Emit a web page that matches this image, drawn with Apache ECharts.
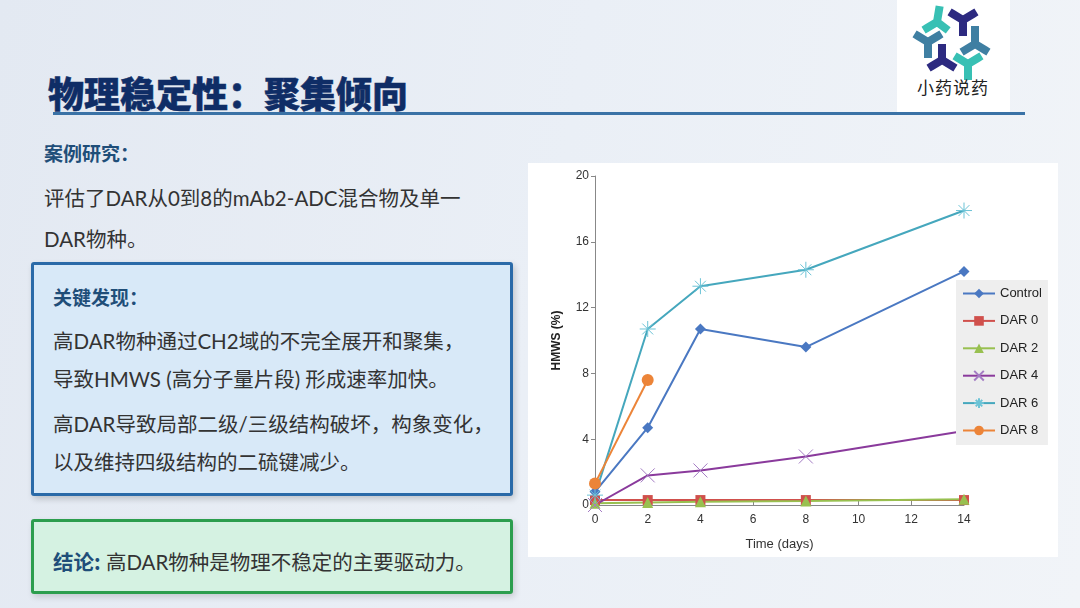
<!DOCTYPE html>
<html><head><meta charset="utf-8">
<script src="https://cdn.jsdelivr.net/npm/echarts@6/dist/echarts.min.js"></script>
<style>
html,body{margin:0;padding:0;}
body{width:1080px;height:608px;position:relative;overflow:hidden;
 background:linear-gradient(100deg,#e3e9f2 0%,#eaeff6 50%,#f1f4f8 100%);
 font-family:Lato,"Noto Sans CJK SC",sans-serif;}
.abs{position:absolute;}
#title{left:48px;top:66px;font-size:36px;font-weight:900;color:#0f2d66;font-family:"Noto Sans CJK SC",sans-serif;letter-spacing:0px;-webkit-text-stroke:0.5px #0f2d66;}
#tline{left:53px;top:112px;width:972px;height:3px;background:#3a72a6;}
#logo{left:897px;top:0;width:113px;height:112px;background:#fff;}
.h{font-weight:bold;color:#1f4e79;font-size:19px;font-family:"Noto Sans CJK SC",sans-serif;}
.t{font-size:20.5px;color:#333;}
#box1{left:31px;top:262px;width:476px;height:228px;border:3px solid #2a6aa8;background:#d8e9f8;border-radius:3px;box-shadow:2px 3px 6px rgba(0,0,0,0.18);}
#box2{left:31px;top:519px;width:476px;height:69px;border:3px solid #2c9e4e;background:#d5f2e2;border-radius:3px;box-shadow:2px 3px 6px rgba(0,0,0,0.15);}
#panel{left:528px;top:163px;width:530px;height:394px;background:#fff;}
</style></head>
<body>
<div id="title" class="abs">物理稳定性：聚集倾向</div>
<div id="tline" class="abs"></div>
<div id="logo" class="abs">
<svg width="113" height="112" viewBox="0 0 113 112">
 <g stroke-linecap="square" stroke-linejoin="round" stroke-width="8" fill="none">
  <path d="M40,22 L42,10 M40,22 L30,28 M40,22 L48,28" stroke="#38c0b4"/>
  <path d="M66,20 L56,14 M66,20 L76,14 M66,20 L66,32" stroke="#2d2a80"/>
  <path d="M78,44 L78,30 M78,44 L88,50 M78,44 L68,50" stroke="#3f7fa2"/>
  <path d="M71,64 L81,58 M71,64 L61,58 M71,64 L71,76" stroke="#38c0b4"/>
  <path d="M45,60 L45,48 M45,60 L35,66 M45,60 L55,66" stroke="#2d2a80"/>
  <path d="M31,42 L21,36 M31,42 L41,36 M31,42 L31,54" stroke="#3f7fa2"/>
 </g>
 <text x="56" y="94" text-anchor="middle" font-size="17" fill="#222" font-family="Noto Sans CJK SC" letter-spacing="1">小药说药</text>
</svg>
</div>
<div class="abs h" style="left:44px;top:139px;">案例研究：</div>
<div class="abs t" style="left:44px;top:182px;">评估了DAR从0到8的mAb2-ADC混合物及单一</div>
<div class="abs t" style="left:44px;top:223px;">DAR物种。</div>
<div id="box1" class="abs"></div>
<div class="abs h" style="left:53px;top:283px;">关键发现：</div>
<div class="abs t" style="left:53px;top:325px;">高DAR物种通过CH2域的不完全展开和聚集，</div>
<div class="abs t" style="left:53px;top:363px;">导致HMWS (高分子量片段) 形成速率加快。</div>
<div class="abs t" style="left:53px;top:408px;">高DAR导致局部二级/三级结构破坏，构象变化，</div>
<div class="abs t" style="left:53px;top:446px;">以及维持四级结构的二硫键减少。</div>
<div id="box2" class="abs"></div>
<div class="abs t" style="left:53px;top:546px;"><span class="h" style="font-size:20.5px;">结论:</span> 高DAR物种是物理不稳定的主要驱动力。</div>
<div id="panel" class="abs"><div id="chart" style="width:530px;height:394px;"></div></div>
<script>
var days = [0, 2, 4, 8, 14];
var seriesNames = ['Control', 'DAR 0', 'DAR 2', 'DAR 4', 'DAR 6', 'DAR 8'];
var control = [0.8, 4.7, 10.7, 9.6, 14.2];
var dar0 = [0.3, 0.3, 0.3, 0.3, 0.3];
var dar2 = [0.1, 0.15, 0.2, 0.25, 0.35];
var dar4 = [0.0, 1.8, 2.1, 2.95, 4.5];
var dar6 = [0.6, 10.7, 13.3, 14.3, 17.9];
var dar8 = [1.3, 7.6];
var yTicks = [0, 4, 8, 12, 16, 20];
var xTicks = [0, 2, 4, 6, 8, 10, 12, 14];

function pairs(vals){ return vals.map(function(v,i){ return [days[i], v]; }); }
var values = [control, dar0, dar2, dar4, dar6, dar8];
var colors = ['#4a78c2', '#d0504c', '#98c050', '#8a3a9c', '#45a7bd', '#ec8438'];
var markColors = ['#4a78c2', '#d0504c', '#98c050', '#a47cc4', '#6cc3d6', '#ec8438'];
var symbols = ['diamond', 'rect', 'triangle', 'path://M0,0L10,10M10,0L0,10',
  'path://M5,0L5,10M0,5L10,5M1.6,1.6L8.4,8.4M8.4,1.6L1.6,8.4', 'circle'];
var sizes = [11, 10, 11, 14, 16, 12];
var stroked = [false, false, false, true, true, false];

var chart = echarts.init(document.getElementById('chart'));
chart.setOption({
  animation: false,
  backgroundColor: '#fff',
  textStyle: {fontFamily: 'Liberation Sans, Arial, sans-serif'},
  grid: {left: 67, right: 94, top: 13, bottom: 52},
  legend: {
    orient: 'vertical', left: 428, top: 117,
    backgroundColor: '#eeeeee', padding: [7, 6, 8, 6],
    itemWidth: 32, itemHeight: 12, itemGap: 14.4,
    textStyle: {fontSize: 13, color: '#222'},
    data: seriesNames
  },
  xAxis: {
    type: 'value', min: 0, max: 14, interval: 2,
    name: 'Time (days)', nameLocation: 'middle', nameGap: 33,
    nameTextStyle: {fontSize: 13, color: '#333'},
    axisLine: {lineStyle: {color: '#888', width: 1}},
    axisTick: {inside: true, length: 4, lineStyle: {color: '#888'}},
    axisLabel: {fontSize: 12, color: '#333', margin: 9},
    splitLine: {show: false}
  },
  yAxis: {
    type: 'value', min: 0, max: 20, interval: 4,
    name: 'HMWS (%)', nameLocation: 'middle', nameGap: 32,
    nameTextStyle: {fontSize: 12, fontWeight: 'bold', color: '#222'},
    axisLine: {show: true, lineStyle: {color: '#888', width: 1}},
    axisTick: {show: true, inside: false, length: 4, lineStyle: {color: '#888'}},
    axisLabel: {fontSize: 12, color: '#333', margin: 6},
    splitLine: {show: false}
  },
  series: seriesNames.map(function(n, i){
    var st = {color: markColors[i]};
    if (stroked[i]) { st.borderColor = markColors[i]; st.borderWidth = 1; }
    return {
      name: n, type: 'line', data: pairs(values[i]),
      symbol: symbols[i], symbolSize: sizes[i], showAllSymbol: true,
      lineStyle: {color: colors[i], width: 2},
      itemStyle: st
    };
  })
});
</script>
</body></html>
